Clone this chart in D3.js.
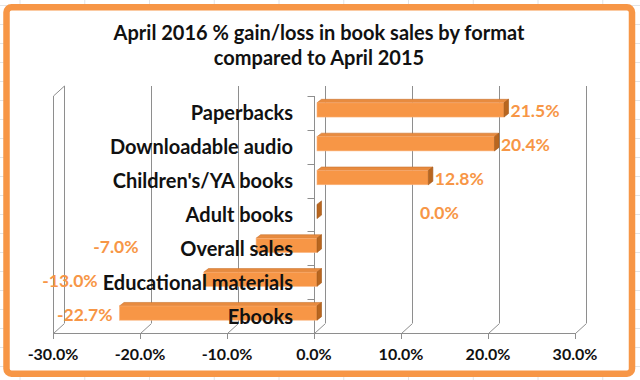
<!DOCTYPE html>
<html><head><meta charset="utf-8">
<script src="https://cdn.jsdelivr.net/npm/d3@7"></script>
<style>html,body{margin:0;padding:0;background:#fff;} svg{display:block;}</style>
</head><body><svg id="c" width="640" height="380"></svg>
<script>
// ---- data ----
const categories = ["Paperbacks", "Downloadable audio", "Children's/YA books", "Adult books", "Overall sales", "Educational materials", "Ebooks"];
const values = [21.5, 20.4, 12.8, 0.0, -7.0, -13.0, -22.7];
// where Excel placed each data label (in % units)
const labelAt = [21.5, 20.4, 12.8, 11.1, -19.7, -24.4, -22.7];
const xTicks = [-30, -20, -10, 0, 10, 20, 30];
const titleLines = ["April 2016 % gain/loss in book sales by format", "compared to April 2015"];

// ---- layout ----
const W = 640, H = 380;
const svg = d3.select("#c");
const ORANGE = "#F79646";
const GRID = "#8E8E8E";
const FONT = "Lato, 'Open Sans', sans-serif";
const pct = d3.formatLocale({decimal: ".", thousands: ",", grouping: [3], currency: ["", ""], minus: "-"}).format(".1f");

// spreadsheet cells behind the chart
const bg = svg.append("g");
d3.range(0, 11).forEach(k => {
  bg.append("line").attr("x1", 20 + 64.75 * k).attr("x2", 20 + 64.75 * k)
    .attr("y1", 0).attr("y2", H).attr("stroke", "#E2E4E6").attr("stroke-width", 1);
});
d3.range(-13, 8).forEach(k => {
  bg.append("line").attr("x1", 0).attr("x2", W)
    .attr("y1", 233.5 + 19 * k).attr("y2", 233.5 + 19 * k).attr("stroke", "#E2E4E6").attr("stroke-width", 1);
});

// chart frame
svg.append("rect").attr("x", 6.5).attr("y", 7.25).attr("width", 625.5).attr("height", 366.5)
  .attr("rx", 5).attr("fill", "#fff").attr("stroke", ORANGE).attr("stroke-width", 6.5);

// title
svg.append("text").attr("x", 319).attr("text-anchor", "middle")
  .attr("font-family", FONT).attr("font-weight", 700).attr("font-size", 20).attr("fill", "#111")
  .selectAll("tspan").data(titleLines).join("tspan")
  .attr("x", 319).attr("y", (d, i) => 39.5 + i * 25).text(d => d);

// scales
const x = d3.scaleLinear().domain([-30, 30]).range([53, 575]);
const y = d3.scaleBand().domain(categories).range([96, 333]);
const DX = 11, DY = -10;             // full depth of the 3-D box
const BF = [3, -3], BB = [7.5, -6.5]; // bar front / back plane offsets
const barH = y.bandwidth() * 0.42;
const yTop = y.range()[0], yBot = y.range()[1];

const g = svg.append("g").attr("stroke", GRID).attr("stroke-width", 1).attr("fill", "none");
// back-wall gridlines, floor diagonals, ticks
xTicks.forEach(t => {
  const xf = Math.round(x(t)) + 0.5;
  g.append("line").attr("x1", xf + DX).attr("x2", xf + DX).attr("y1", yTop + DY).attr("y2", yBot + DY);
  g.append("line").attr("x1", xf).attr("x2", xf + DX).attr("y1", yBot + 0.5).attr("y2", yBot + DY + 0.5);
  g.append("line").attr("x1", xf).attr("x2", xf).attr("y1", yBot).attr("y2", yBot + 6);
});
// side wall (left)
const xl = Math.round(x(-30)) + 0.5;
g.append("line").attr("x1", xl).attr("x2", xl).attr("y1", yTop).attr("y2", yBot);
g.append("line").attr("x1", xl).attr("x2", xl + DX).attr("y1", yTop).attr("y2", yTop + DY);
// floor front edge
g.append("line").attr("x1", xl).attr("x2", Math.round(x(30)) + 0.5).attr("y1", yBot + 0.5).attr("y2", yBot + 0.5);
// category axis
const x0 = Math.round(x(0)) + 0.5;
g.append("line").attr("x1", x0).attr("x2", x0).attr("y1", yTop).attr("y2", yBot);
const bounds = categories.map(c => y(c)).concat([yBot]);
bounds.forEach(b => {
  g.append("line").attr("x1", x0 - 7).attr("x2", x0).attr("y1", Math.round(b) + 0.5).attr("y2", Math.round(b) + 0.5);
});

// x tick labels
svg.append("g").selectAll("text").data(xTicks).join("text")
  .attr("x", d => x(d)).attr("y", 360).attr("text-anchor", "middle")
  .attr("font-family", FONT).attr("font-weight", 700).attr("font-size", 16).attr("fill", "#111")
  .text(d => pct(d) + "%");

// bars
const bars = svg.append("g");
categories.forEach((c, i) => {
  const v = values[i];
  const xa = x(Math.min(0, v)), xb = x(Math.max(0, v));
  const yc = y(c) + y.bandwidth() / 2;
  const t = yc + BF[1] - barH / 2, b = yc + BF[1] + barH / 2;
  const ddx = BB[0] - BF[0], ddy = BB[1] - BF[1];
  if (xb > xa) {
    bars.append("polygon")
      .attr("points", [[xa + BF[0], t], [xb + BF[0], t], [xb + BF[0] + ddx, t + ddy], [xa + BF[0] + ddx, t + ddy]].join(" "))
      .attr("fill", "#E88B3F").attr("stroke", "#C9722E").attr("stroke-width", 0.6);
    bars.append("rect").attr("x", xa + BF[0]).attr("y", t).attr("width", xb - xa).attr("height", barH)
      .attr("fill", ORANGE).attr("stroke", "#FBB27A").attr("stroke-width", 0.6);
  }
  bars.append("polygon")
    .attr("points", [[xb + BF[0], t], [xb + BF[0] + ddx, t + ddy], [xb + BF[0] + ddx, b + ddy], [xb + BF[0], b]].join(" "))
    .attr("fill", "#B8661F").attr("stroke", "#A3581A").attr("stroke-width", 0.6);
});

// category labels
svg.append("g").selectAll("text").data(categories).join("text")
  .attr("x", 293).attr("y", d => y(d) + y.bandwidth() / 2 + 7.5)
  .attr("text-anchor", "end").attr("font-family", FONT).attr("font-weight", 700)
  .attr("font-size", 20).attr("fill", "#111").text(d => d);

// data labels
svg.append("g").selectAll("text").data(values).join("text")
  .attr("x", (d, i) => labelAt[i] >= 0 ? x(labelAt[i]) + BB[0] + 2 : x(labelAt[i]) + BF[0] - 7)
  .attr("y", (d, i) => y(categories[i]) + y.bandwidth() / 2 + 4.5)
  .attr("text-anchor", (d, i) => labelAt[i] >= 0 ? "start" : "end")
  .attr("font-family", FONT).attr("font-weight", 700).attr("font-size", 17.5).attr("fill", ORANGE)
  .text(d => pct(d) + "%");
</script>
</body></html>
